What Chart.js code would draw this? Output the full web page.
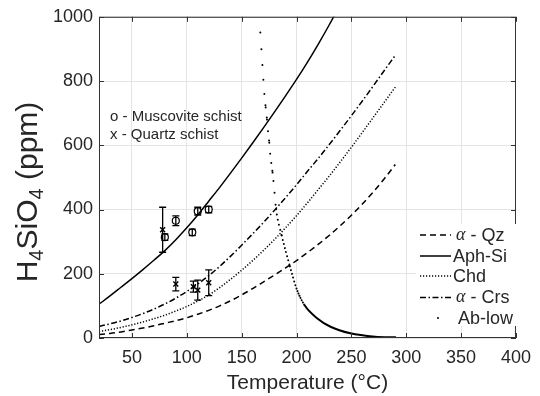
<!DOCTYPE html>
<html>
<head>
<meta charset="utf-8">
<script src="https://cdn.jsdelivr.net/npm/chart.js@4.4.1/dist/chart.umd.min.js"></script>
<style>
  html, body { margin: 0; padding: 0; background: #fff; }
  canvas { display: block; }
</style>
</head>
<body>
<canvas id="chart" width="540" height="396"></canvas>
<script>
// temperatures (°C) shared by the Qz, Chd and Crs curves
const temps = [20, 30, 40, 50, 60, 70, 80, 90, 100, 110, 120, 130, 140, 150, 160, 170, 180, 190, 200, 210, 220, 230, 240, 250, 260, 270, 280, 290];
const qz  = [11, 14, 19, 25, 31, 38, 46, 54, 63, 74, 86, 100, 116, 134, 154, 175, 196, 218, 241, 266, 292, 320, 350, 382, 417, 455, 496, 540];
const chd = [20, 26, 33, 41, 50, 60, 71, 84, 98, 115, 134, 157, 183, 211, 241, 273, 307, 343, 381, 421, 463, 505, 549, 594, 640, 687, 734, 781];
const crs = [36, 44, 53, 64, 76, 90, 106, 124, 145, 168, 194, 223, 255, 289, 324, 360, 398, 437, 477, 519, 560, 603, 647, 692, 738, 785, 833, 880];

// amorphous silica
const aphT  = [20, 30, 40, 50, 60, 70, 80, 90, 100, 110, 120, 130, 140, 150, 160, 170, 180, 190, 200, 210, 220, 230, 240];
const aphSi = [105, 131, 158, 185, 213, 242, 272, 306, 343, 383, 426, 469, 514, 560, 607, 655, 704, 754, 805, 859, 916, 976, 1039];

// low albite
const abT   = [167, 168, 168.9, 169.8, 170.7, 171.9, 173.1, 174, 175.2, 176, 177, 178.2, 179, 181.4, 186.5, 194, 200, 207.4, 219, 231, 249, 271.6, 290];
const abLow = [951, 899, 850, 804, 760, 718, 680, 644, 608, 574, 545, 515, 489, 401, 319, 223, 154, 102, 61, 35, 14.5, 4, 2];

// samples
const muscT   = [80, 90, 105, 110, 120];
const muscV   = [314, 365, 329, 395, 400];
const muscErr = [10, 15, 10, 12, 10];
const qtzT    = [78, 90, 106, 110, 120];
const qtzV    = [337, 168, 160, 149, 172];
const qtzErr  = [70, 21, 17, 31, 40];

const xTicks = [50, 100, 150, 200, 250, 300, 350, 400];
const yTicks = [0, 200, 400, 600, 800, 1000];

const textColor = '#262626';
const sans = '"Liberation Sans", Arial, sans-serif';

function pts(xs, ys) {
  return xs.map((x, i) => ({ x: x, y: ys[i] }));
}

const lineBase = {
  showLine: true, pointRadius: 0, borderColor: '#000', borderWidth: 1.5,
  fill: false, cubicInterpolationMode: 'monotone'
};

// error bars, inner ticks, box, text, legend, y title
const extras = {
  id: 'extras',
  afterDatasetsDraw(chart) {
    const ctx = chart.ctx, xs = chart.scales.x, ys = chart.scales.y;
    ctx.save();
    ctx.strokeStyle = '#000';
    ctx.lineWidth = 1.3;
    const bar = (t, v, e) => {
      const x = xs.getPixelForValue(t);
      const y1 = ys.getPixelForValue(v - e), y2 = ys.getPixelForValue(v + e);
      ctx.beginPath();
      ctx.moveTo(x, y1); ctx.lineTo(x, y2);
      ctx.moveTo(x - 3.5, y1); ctx.lineTo(x + 3.5, y1);
      ctx.moveTo(x - 3.5, y2); ctx.lineTo(x + 3.5, y2);
      ctx.stroke();
    };
    muscT.forEach((t, i) => bar(t, muscV[i], muscErr[i]));
    qtzT.forEach((t, i) => bar(t, qtzV[i], qtzErr[i]));
    ctx.restore();
  },
  afterDraw(chart) {
    const ctx = chart.ctx, a = chart.chartArea;
    const xs = chart.scales.x, ys = chart.scales.y;
    ctx.save();

    // box and inward ticks
    ctx.strokeStyle = '#333';
    ctx.lineWidth = 1;
    ctx.strokeRect(a.left + 0.5, a.top + 0.5, a.right - a.left - 1, a.bottom - a.top - 1);
    ctx.beginPath();
    xTicks.forEach(v => {
      const x = Math.round(xs.getPixelForValue(v)) + 0.5;
      ctx.moveTo(x, a.bottom); ctx.lineTo(x, a.bottom - 5);
      ctx.moveTo(x, a.top); ctx.lineTo(x, a.top + 5);
    });
    yTicks.forEach(v => {
      const y = Math.round(ys.getPixelForValue(v)) + 0.5;
      ctx.moveTo(a.left, y); ctx.lineTo(a.left + 5, y);
      ctx.moveTo(a.right, y); ctx.lineTo(a.right - 5, y);
    });
    ctx.stroke();

    // sample key text
    ctx.fillStyle = textColor;
    ctx.font = '15px ' + sans;
    ctx.textBaseline = 'middle';
    ctx.textAlign = 'left';
    ctx.fillText('o - Muscovite schist', 110, 117);
    ctx.fillText('x - Quartz schist', 110, 135);

    // legend
    ctx.fillStyle = '#fff';
    ctx.fillRect(416, 224, 106, 102);
    const rows = [
      { dash: [6, 4], alpha: true, label: ' - Qz' },
      { dash: [], label: 'Aph-Si' },
      { dash: [1.2, 1.8], label: 'Chd' },
      { dash: [6, 2.5, 1.5, 2.5], alpha: true, label: ' - Crs' },
      { dot: true, label: 'Ab-low' }
    ];
    const rowY = [235, 256, 276, 297.5, 318];
    rows.forEach((r, i) => {
      const y = rowY[i];
      ctx.strokeStyle = '#000';
      ctx.fillStyle = '#000';
      if (r.dot) {
        ctx.beginPath();
        ctx.arc(438, y, 1, 0, Math.PI * 2);
        ctx.fill();
      } else {
        ctx.lineWidth = 1.5;
        ctx.setLineDash(r.dash);
        ctx.beginPath();
        ctx.moveTo(420, y); ctx.lineTo(451, y);
        ctx.stroke();
        ctx.setLineDash([]);
      }
      ctx.fillStyle = textColor;
      let x = r.dot ? 458 : 453;
      if (r.alpha) {
        x = 456;
        ctx.font = 'italic 18px "Liberation Serif", serif';
        ctx.fillText('\u03b1', x, y);
        x += ctx.measureText('\u03b1').width;
      }
      ctx.font = '18px ' + sans;
      ctx.fillText(r.label, x, y + 1);
    });

    // y axis title with subscripts
    ctx.translate(28, 192);
    ctx.rotate(-Math.PI / 2);
    const parts = [['H', 0], ['4', 1], ['SiO', 0], ['4', 1], [' (ppm)', 0]];
    const big = '30px ' + sans, small = '20px ' + sans;
    let total = 0;
    parts.forEach(p => { ctx.font = p[1] ? small : big; total += ctx.measureText(p[0]).width; });
    let x = -total / 2;
    ctx.fillStyle = textColor;
    ctx.textBaseline = 'alphabetic';
    parts.forEach(p => {
      ctx.font = p[1] ? small : big;
      ctx.fillText(p[0], x, p[1] ? 15 : 9);
      x += ctx.measureText(p[0]).width;
    });
    ctx.restore();
  }
};

new Chart(document.getElementById('chart'), {
  type: 'scatter',
  data: {
    datasets: [
      Object.assign({ label: 'α - Qz', data: pts(temps, qz), borderDash: [6, 4] }, lineBase),
      Object.assign({ label: 'Aph-Si', data: pts(aphT, aphSi) }, lineBase),
      Object.assign({ label: 'Chd', data: pts(temps, chd), borderDash: [1.2, 1.8] }, lineBase),
      Object.assign({ label: 'α - Crs', data: pts(temps, crs), borderDash: [6, 2.5, 1.5, 2.5] }, lineBase),
      Object.assign({}, lineBase, {
        label: 'Ab-low', data: pts(abT, abLow), borderWidth: 2, borderCapStyle: 'round',
        segment: {
          // sparse dots where the curve is steep, solid where flat
          borderDash: c => {
            const len = Math.hypot(c.p1.x - c.p0.x, c.p1.y - c.p0.y);
            const step = len / (c.p1.parsed.x - c.p0.parsed.x);
            return step > 2.2 ? [0.01, step] : undefined;
          }
        }
      }),
      {
        label: 'Muscovite', data: pts(muscT, muscV), showLine: false,
        pointStyle: 'circle', pointRadius: 3.5, borderColor: '#000',
        backgroundColor: 'rgba(0,0,0,0)', borderWidth: 1.2
      },
      {
        label: 'Quartz', data: pts(qtzT, qtzV), showLine: false,
        pointStyle: 'crossRot', pointRadius: 3.5, borderColor: '#000', borderWidth: 1.4
      }
    ]
  },
  options: {
    responsive: false,
    animation: false,
    devicePixelRatio: 1,
    layout: { padding: { top: 15, right: 16, left: 0, bottom: 0 } },
    plugins: { legend: { display: false }, tooltip: { enabled: false } },
    scales: {
      x: {
        type: 'linear', min: 20, max: 400,
        afterBuildTicks: s => { s.ticks = xTicks.map(v => ({ value: v })); },
        afterFit: s => { s.height = 58; },
        grid: { color: '#e4e4e4', drawTicks: false },
        border: { display: false },
        ticks: { color: textColor, font: { size: 18, family: sans }, padding: 9, maxRotation: 0,
                 callback: v => String(v) },
        title: { display: true, text: 'Temperature (°C)', color: textColor,
                 font: { size: 21, family: sans }, padding: { top: 0, bottom: 0 } }
      },
      y: {
        min: 0, max: 1000,
        afterBuildTicks: s => { s.ticks = yTicks.map(v => ({ value: v })); },
        afterFit: s => { s.width = 99; },
        grid: { color: '#e4e4e4', drawTicks: false },
        border: { display: false },
        ticks: { color: textColor, font: { size: 18, family: sans }, padding: 6,
                 callback: v => String(v) }
      }
    }
  },
  plugins: [extras]
});
</script>
</body>
</html>
